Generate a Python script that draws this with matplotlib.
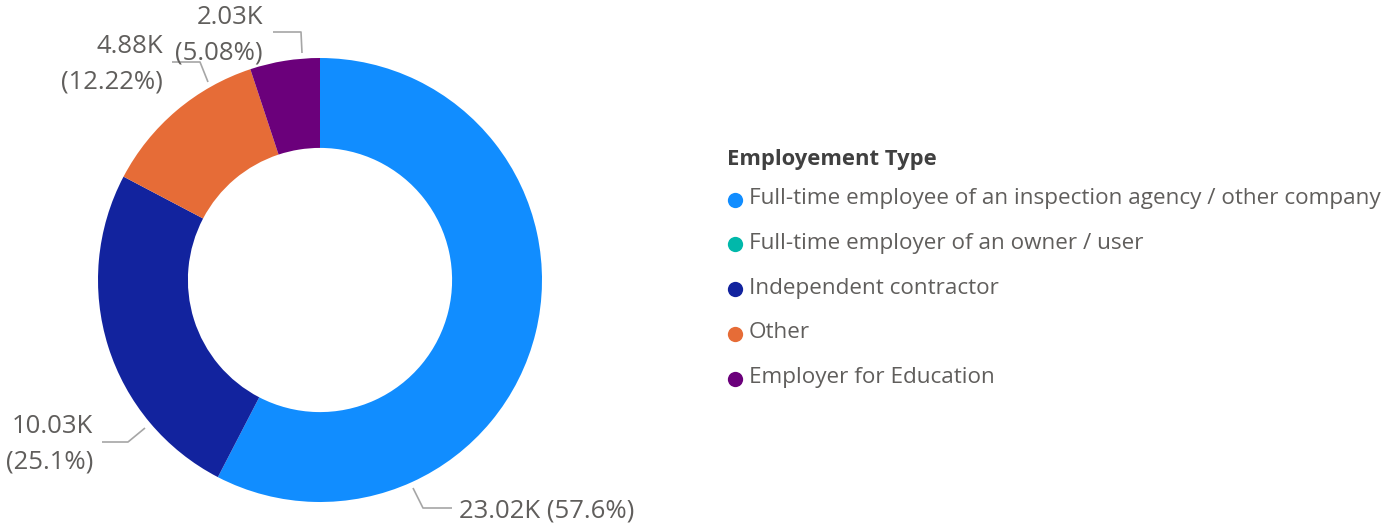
import matplotlib
matplotlib.use("Agg")
import matplotlib.pyplot as plt

# ---- data ----
categories = [
    "Full-time employee of an inspection agency / other company",
    "Full-time employer of an owner / user",
    "Independent contractor",
    "Other",
    "Employer for Education",
]
values_k = [23.02, 0.0, 10.03, 4.88, 2.03]
percent_labels = ["57.6%", "0%", "25.1%", "12.22%", "5.08%"]
colors = ["#118DFF", "#01B8AA", "#12239E", "#E66C37", "#6B007B"]
legend_title = "Employement Type"

W, H = 1387, 529
plt.rcParams['font.family'] = ['Open Sans', 'DejaVu Sans']
fig = plt.figure(figsize=(W / 100, H / 100), dpi=100)
ax = fig.add_axes([0, 0, 1, 1])

def Y(py):
    return H - py

cx, cy, R = 320, Y(280), 222
ax.pie(values_k, colors=colors, startangle=90, counterclock=False,
       center=(cx, cy), radius=R,
       wedgeprops=dict(width=R * 0.405, linewidth=0))
ax.set_xlim(0, W)
ax.set_ylim(0, H)
ax.set_aspect('auto')
ax.axis('off')

label_color = "#605E5C"
line_color = "#A6A6A6"
fs_lab = 18.5

# label layout: (leader line pixel points, text x, text y, ha, two-line?)
layout = {
    0: ([(413, 488), (423, 508), (452, 508)], 459, 511, 'left', False),
    2: ([(145, 428), (128, 442), (102, 442)], 93, 444, 'right', True),
    3: ([(208, 82), (200, 62), (172, 62)], 163, 64, 'right', True),
    4: ([(302, 53), (301, 32), (273, 32)], 263, 35, 'right', True),
}
for i, (pts, tx, ty, ha, two) in layout.items():
    xs = [p[0] for p in pts]
    ys = [Y(p[1]) for p in pts]
    ax.plot(xs, ys, color=line_color, lw=1.2, solid_capstyle='butt')
    sep = "\n" if two else " "
    txt = f"{values_k[i]:.2f}K{sep}({percent_labels[i]})"
    ax.text(tx, Y(ty), txt, ha=ha, va='center', fontsize=fs_lab,
            color=label_color, multialignment='right' if two else 'left',
            linespacing=1.55)

# ---- legend ----
ax.text(727, Y(160), legend_title, ha='left', va='center', fontsize=15.8,
        fontweight='bold', color="#404040")
row0, dy = 198.5, 44.8
for k, (cat, col) in enumerate(zip(categories, colors)):
    yy = Y(row0 + k * dy)
    ax.plot([735], [yy - 1], 'o', color=col, markersize=11, markeredgewidth=0)
    ax.text(749, yy, cat, ha='left', va='center', fontsize=16.2, color=label_color)

fig.savefig("out.png", dpi=100)
